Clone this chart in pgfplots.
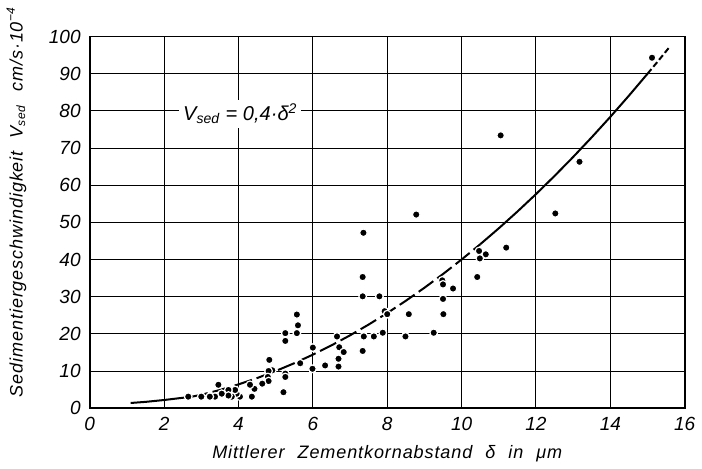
\documentclass[border=0pt]{standalone}
\usepackage{pgfplots}
\pgfplotsset{compat=1.18}
\usepackage{fontspec}
\setmainfont{Liberation Sans}
\newfontfamily\lab[LetterSpace=5,WordSpace=2.2]{Liberation Sans}

% measured points (delta in um, v_sed in cm/s*10^-4)
\pgfplotstableread{
x y
15.12 94.3
11.05 73.4
13.17 66.3
12.52 52.4
8.78 52.1
7.36 47.2
11.20 43.2
10.47 42.3
10.65 41.4
10.49 40.3
10.42 35.3
9.48 34.4
9.50 33.3
9.77 32.2
9.50 29.4
9.51 25.3
9.25 20.3
8.58 25.3
8.49 19.3
7.93 26.1
8.00 25.3
7.88 20.3
7.64 19.3
7.37 19.3
7.34 15.4
7.34 35.3
7.34 30.1
7.79 30.1
6.65 19.3
6.71 16.4
6.83 15.1
6.69 13.3
6.69 11.2
6.33 11.5
6.00 16.3
5.99 10.6
5.66 12.1
5.57 25.2
5.60 22.3
5.57 20.2
5.26 20.2
5.26 18.1
5.26 9.3
5.26 8.4
5.21 4.3
4.91 10.2
4.83 13.0
4.81 10.0
4.79 8.4
4.81 7.3
4.64 6.6
4.43 5.2
4.31 6.3
4.36 3.1
4.04 3.1
3.95 3.9
3.91 4.9
3.82 3.1
3.73 4.9
3.73 3.4
3.55 3.9
3.46 6.3
3.37 3.1
3.23 3.1
3.00 3.1
2.65 3.1
}\messdata

\begin{document}
\begin{tikzpicture}
\begin{axis}[
  scale only axis,
  width=297pt, height=185.5pt,
  xmin=0, xmax=16, ymin=0, ymax=100,
  xtick={0,2,...,16}, ytick={0,10,...,100},
  grid=major,
  grid style={black, line width=0.5pt},
  axis line style={black, line width=0.9pt},
  major tick length=0pt,
  tick label style={font=\fontsize{9.5}{10}\selectfont\itshape},
  /pgf/number format/assume math mode=true,
  xticklabel style={yshift=-1pt},
  yticklabel style={xshift=-1pt},
  xlabel={\lab\fontsize{9}{10}\selectfont\itshape Mittlerer Zementkornabstand δ in μm},
  xlabel style={at={(axis description cs:0.5,-0.123)}, anchor=center},
  ylabel={\lab\fontsize{9}{10}\selectfont\itshape Sedimentiergeschwindigkeit V\textsubscript{sed} cm/s·10\textsuperscript{−4}},
  ylabel style={at={(axis description cs:-0.123,0.555)}, anchor=center},
  clip=false,
]
% V_sed = 0.4 delta^2
\addplot[black, line width=1pt] coordinates {
  (1.1,1.4) (1.5,1.7) (2,2.2) (2.5,2.8) (2.7,3.0)};
\addplot[black, line width=1pt, dash pattern=on 9pt off 2.5pt] coordinates {
  (2.7,3.0) (3,3.6) (3.5,4.9) (4,6.4) (4.5,8.1) (5,10) (5.5,12.1) (6,14.4)
  (6.5,16.9) (7,19.6) (7.5,22.5) (8,25.6) (8.5,28.9) (9,32.4) (9.5,36.1)
  (10,40) (10.5,44.1)};
\addplot[black, line width=1pt] coordinates {
  (10.5,44.1) (11,48.4) (11.5,52.9) (12,57.6) (12.5,62.5) (13,67.6)
  (13.5,72.9) (14,78.4) (14.5,84.1) (15,90)};
\addplot[black, line width=1pt, dash pattern=on 3pt off 1.5pt] coordinates {
  (15,90) (15.3,93.6) (15.6,97.3)};
\addplot[only marks, mark=*, mark size=1.9pt,
  mark options={fill=black, draw=white, line width=0.6pt}] table {\messdata};
\node[fill=white, inner sep=2pt, font=\fontsize{10}{11}\selectfont\itshape]
  at (axis cs:4.05,79.2) {V\textsubscript{sed} = 0,4·δ\textsuperscript{2}};
\end{axis}
\end{tikzpicture}
\end{document}
